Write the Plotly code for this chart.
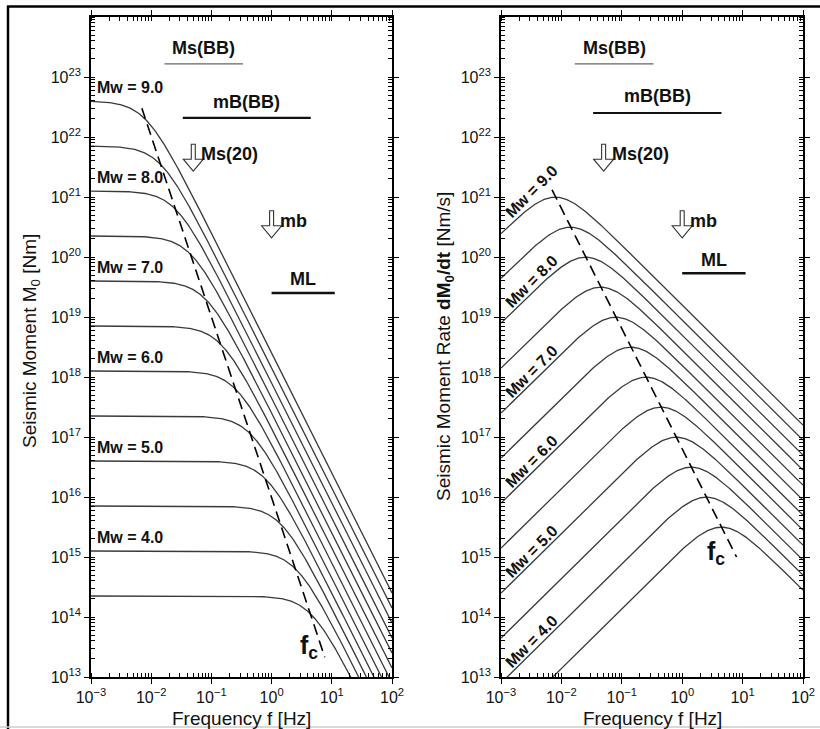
import numpy as np
import plotly.graph_objects as go

# ---------------- data ----------------
mw_values = [3.5, 4.0, 4.5, 5.0, 5.5, 6.0, 6.5, 7.0, 7.5, 8.0, 8.5, 9.0]
log_moment = [14.35, 15.10, 15.85, 16.60, 17.35, 18.10, 18.85, 19.60, 20.35, 21.10, 21.85, 22.60]
log_corner_freq = [0.65, 0.40, 0.15, -0.10, -0.35, -0.60, -0.85, -1.10, -1.35, -1.60, -1.85, -2.10]
labelled_mw = [4.0, 5.0, 6.0, 7.0, 8.0, 9.0]

# corner-frequency locus (dashed), end points
fc_line_freq_left = [0.0070, 7.64]
fc_line_moment = [3.02e22, 2.14e13]
fc_line_freq_right = [0.0070, 7.94]
fc_line_rate = [1.32e21, 1.0e15]

# magnitude-scale frequency bands [Hz]
band_names = ["Ms(BB)", "mB(BB)", "ML"]
band_lo = [0.0166, 0.0335, 1.0]
band_hi = [0.335, 4.47, 11.2]
arrow_names = ["Ms(20)", "mb"]
arrow_freq = [0.05, 1.0]

x_tick_vals = [1e-3, 1e-2, 1e-1, 1e0, 1e1, 1e2]
x_tick_text = ["10<sup>\u22123</sup>", "10<sup>\u22122</sup>", "10<sup>\u22121</sup>",
               "10<sup>0</sup>", "10<sup>1</sup>", "10<sup>2</sup>"]
y_tick_vals = [1e13, 1e14, 1e15, 1e16, 1e17, 1e18, 1e19, 1e20, 1e21, 1e22, 1e23]
y_tick_text = ["10<sup>%d</sup>" % e for e in range(13, 24)]

# ---------------- styles / layout ----------------
W, H = 820, 729
FONT = "Liberation Sans, Arial, Helvetica, sans-serif"
CURVE = "#3a3a3a"
TXT = "#111111"


def px(xp):
    return xp / W


def py(yp):
    return 1 - yp / H


freq = np.logspace(-3, 2, 400)

fig = go.Figure()

for mw, lm, lf in zip(mw_values, log_moment, log_corner_freq):
    m0 = 10 ** lm
    fc = 10 ** lf
    spec = m0 / (1 + (freq / fc) ** 2)
    rate = 2 * np.pi * freq * m0 / (1 + (freq / fc) ** 2)
    fig.add_trace(go.Scatter(x=freq, y=spec, mode="lines", xaxis="x", yaxis="y",
                             line=dict(color=CURVE, width=1.3), showlegend=False,
                             name="Mw %.1f" % mw))
    fig.add_trace(go.Scatter(x=freq, y=rate, mode="lines", xaxis="x2", yaxis="y2",
                             line=dict(color=CURVE, width=1.3), showlegend=False,
                             name="Mw %.1f" % mw))

fig.add_trace(go.Scatter(x=fc_line_freq_left, y=fc_line_moment, mode="lines", xaxis="x", yaxis="y",
                         line=dict(color="black", width=1.6, dash="11px,6px"), showlegend=False))
fig.add_trace(go.Scatter(x=fc_line_freq_right, y=fc_line_rate, mode="lines", xaxis="x2", yaxis="y2",
                         line=dict(color="black", width=1.6, dash="11px,6px"), showlegend=False))

# band bars
band_y = {"x": [10 ** 23.22, 10 ** 22.32, 10 ** 19.40],
          "x2": [10 ** 23.22, 10 ** 22.40, 10 ** 19.73]}
band_text_y = {"x": [23.48, 22.58, 19.63], "x2": [23.48, 22.68, 19.95]}
band_style = [dict(color="#666666", width=1.2), dict(color="#111111", width=2.2),
              dict(color="#111111", width=2.6)]
arrow_tip = [21.43, 20.32]
ARROW_PATH = "M -2,27 L -2,12 L -10,12 L 0,0 L 10,12 L 2,12 L 2,27 Z"

annotations = []
shapes = []
for xa, ya in [("x", "y"), ("x2", "y2")]:
    for i, name in enumerate(band_names):
        fig.add_trace(go.Scatter(x=[band_lo[i], band_hi[i]], y=[band_y[xa][i]] * 2, mode="lines",
                                 xaxis=xa, yaxis=ya, line=band_style[i], showlegend=False))
        annotations.append(dict(xref=xa, yref=ya,
                                x=(np.log10(band_lo[i]) + np.log10(band_hi[i])) / 2,
                                y=band_text_y[xa][i], text="<b>%s</b>" % name, showarrow=False,
                                font=dict(size=18, family=FONT, color=TXT),
                                xanchor="center", yanchor="middle"))
    for i, name in enumerate(arrow_names):
        # shapes on log axes take data values for the anchor
        shapes.append(dict(type="path", xref=xa, yref=ya, xsizemode="pixel", ysizemode="pixel",
                           xanchor=arrow_freq[i], yanchor=float(10 ** arrow_tip[i]),
                           path=ARROW_PATH,
                           line=dict(color="#333333", width=1.1), fillcolor="white"))
        annotations.append(dict(xref=xa, yref=ya, x=float(np.log10(arrow_freq[i])), y=arrow_tip[i],
                                xshift=6, yshift=17,
                                text="<b>%s</b>" % name, showarrow=False,
                                font=dict(size=18, family=FONT, color=TXT),
                                xanchor="left", yanchor="middle"))

# Mw labels
for mw, lm in zip(mw_values, log_moment):
    if mw in labelled_mw:
        annotations.append(dict(xref="x", yref="y", x=-2.94, y=lm + 0.22,
                                text="<b>Mw = %.1f</b>" % mw, showarrow=False,
                                font=dict(size=16, family=FONT, color=TXT),
                                xanchor="left", yanchor="middle"))
        rate_at = np.log10(2 * np.pi) - 2.5 + lm
        annotations.append(dict(xref="x2", yref="y2", x=-2.5, y=rate_at + 0.2,
                                text="<b>Mw = %.1f</b>" % mw, showarrow=False, textangle=-45,
                                font=dict(size=16, family=FONT, color=TXT),
                                xanchor="center", yanchor="middle"))

# f_c labels
for cx, cy in [(309, 647), (716, 553)]:
    annotations.append(dict(xref="paper", yref="paper", x=px(cx), y=py(cy),
                            xanchor="center", yanchor="middle",
                            text="<b>f<sub>c</sub></b>", showarrow=False,
                            font=dict(size=25, family=FONT, color=TXT)))

# axis titles
for cx in [241, 652]:
    annotations.append(dict(xref="paper", yref="paper", x=px(cx), y=py(718),
                            xanchor="center", yanchor="middle",
                            text="Frequency f [Hz]", showarrow=False,
                            font=dict(size=19, family=FONT, color=TXT)))
annotations.append(dict(xref="paper", yref="paper", x=px(31), y=py(341), textangle=-90,
                        xanchor="center", yanchor="middle",
                        text="Seismic Moment M<sub>0</sub> [Nm]", showarrow=False,
                        font=dict(size=19, family=FONT, color=TXT)))
annotations.append(dict(xref="paper", yref="paper", x=px(445), y=py(347), textangle=-90,
                        xanchor="center", yanchor="middle",
                        text="Seismic Moment Rate <b>dM<sub>0</sub>/dt</b> [Nm/s]", showarrow=False,
                        font=dict(size=19, family=FONT, color=TXT)))

# figure frame lines
shapes.append(dict(type="line", xref="paper", yref="paper", x0=px(7), x1=1, y0=py(6.5), y1=py(6.5),
                   line=dict(color="black", width=2.5)))
shapes.append(dict(type="line", xref="paper", yref="paper", x0=px(8), x1=px(8), y0=py(6), y1=0,
                   line=dict(color="black", width=2.5)))
shapes.append(dict(type="line", xref="paper", yref="paper", x0=0, x1=1, y0=py(727), y1=py(727),
                   line=dict(color="#cccccc", width=1.5)))

axis_common = dict(type="log", showline=True, linecolor="black", linewidth=1.8, mirror="allticks",
                   ticks="outside", ticklen=5, tickwidth=1.3, tickcolor="black",
                   showgrid=False, zeroline=False, automargin=False,
                   tickfont=dict(size=16, family=FONT, color=TXT),
                   minor=dict(ticks="inside", ticklen=4, tickwidth=1, tickcolor="black",
                              dtick="D1", showgrid=False))
xax = dict(axis_common, range=[-3, 2], tickvals=x_tick_vals, ticktext=x_tick_text)
yax = dict(axis_common, range=[13, 24], tickvals=y_tick_vals, ticktext=y_tick_text)

fig.update_layout(
    width=W, height=H, margin=dict(l=0, r=0, t=0, b=0, pad=0, autoexpand=False),
    paper_bgcolor="white", plot_bgcolor="white", showlegend=False,
    xaxis=dict(xax, domain=[px(91), px(392)], anchor="y"),
    yaxis=dict(yax, domain=[py(677), py(17)], anchor="x"),
    xaxis2=dict(xax, domain=[px(501), px(803)], anchor="y2"),
    yaxis2=dict(yax, domain=[py(677), py(17)], anchor="x2"),
    annotations=annotations, shapes=shapes,
)

fig.write_html("out.html", config={"displayModeBar": False},
               post_script="document.body.style.margin='0px';document.body.style.overflow='hidden';")
